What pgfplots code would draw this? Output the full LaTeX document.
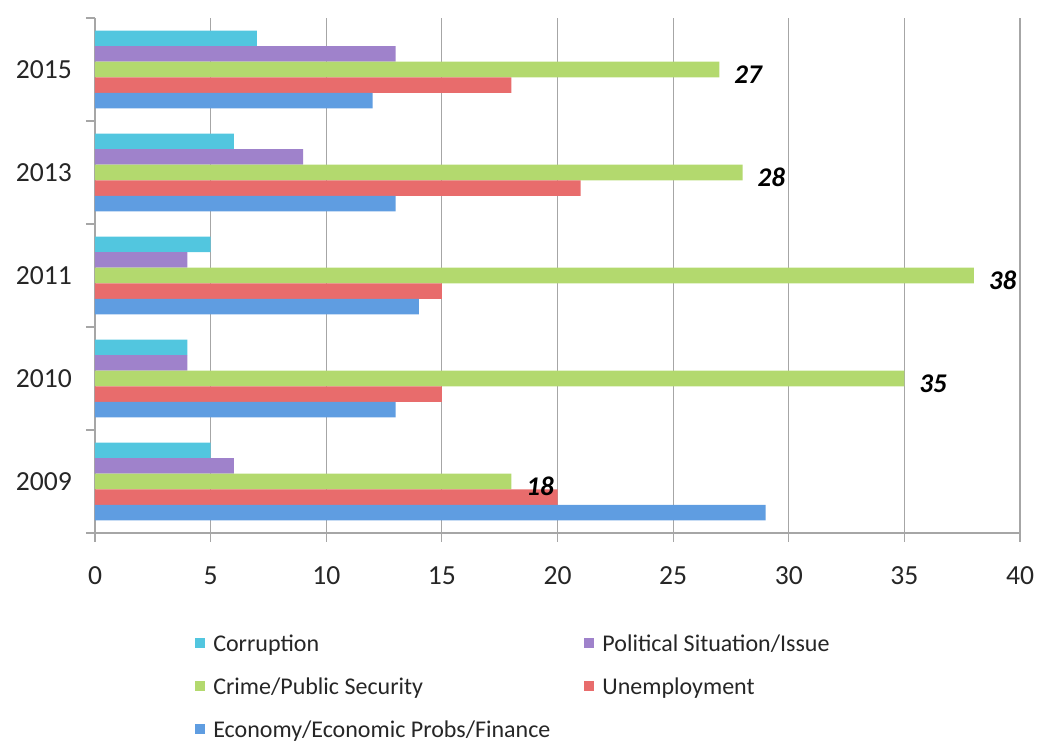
\documentclass[border=0pt]{standalone}
\usepackage{pgfplots}
\pgfplotsset{compat=1.18}
\usepackage{fontspec}
\setmainfont{Carlito}
\definecolor{cyM}{HTML}{52C6DF}\definecolor{puM}{HTML}{9F82CB}
\definecolor{grM}{HTML}{B3D96E}\definecolor{reM}{HTML}{E86C6C}
\definecolor{blM}{HTML}{5F9DE1}
\definecolor{gridc}{HTML}{A6A6A6}
\definecolor{txt}{HTML}{262626}
\pgfplotsset{sqleg/.style={legend image code/.code={\path (0pt,0pt); \fill[##1] (0pt,1.8pt) rectangle (5pt,6.8pt);}}}
\begin{document}
\begin{tikzpicture}
\path[use as bounding box] (-47.5pt,-104.5pt) rectangle (472pt,266.5pt);
\begin{axis}[
  at={(0,0)}, anchor=south west,
  scale only axis, width=462.5pt, height=257.5pt,
  xbar, bar width=0.151,
  xmin=0, xmax=40, ymin=-0.5, ymax=4.5,
  axis x line*=bottom, axis y line*=left,
  axis line style={draw=gridc, line width=0.6pt},
  xtick={0,5,...,40},
  ytick={-0.5,0.5,1.5,2.5,3.5,4.5}, yticklabels={},
  extra y ticks={0,1,2,3,4},
  extra y tick labels={2009,2010,2011,2013,2015},
  extra y tick style={major tick length=0pt},
  tick align=outside, major tick length=4.5pt,
  tick style={draw=gridc, line width=0.6pt},
  xmajorgrids, grid style={draw=gridc, line width=0.6pt},
  ticklabel style={font=\fontsize{13.8}{13.8}\selectfont, text=txt},
  xticklabel style={yshift=-9pt},
  yticklabel style={xshift=-8pt},
  /pgf/number format/assume math mode=true,
  legend columns=2,
  legend style={at={(axis description cs:0.108,-0.195)}, anchor=north west,
    draw=none, fill=none, inner sep=0pt, font=\fontsize{12}{12}\selectfont, text=txt,
    row sep=9.5pt,
    nodes={inner sep=0pt, text height=9pt, text depth=3pt, anchor=base west},
    /tikz/every odd column/.append style={column sep=4pt},
    /tikz/every even column/.append style={column sep=17pt}},
]
\addplot[sqleg, draw=none, fill=cyM, bar shift=0.302]
  coordinates {(5,0) (4,1) (5,2) (6,3) (7,4)};
\addlegendentry{Corruption}
\addplot[sqleg, draw=none, fill=puM, bar shift=0.151]
  coordinates {(6,0) (4,1) (4,2) (9,3) (13,4)};
\addlegendentry{Political Situation/Issue}
\addplot[sqleg, draw=none, fill=grM, bar shift=0,
  nodes near coords,
  nodes near coords style={anchor=west, xshift=4pt, yshift=-2.5pt, text=black,
    font=\fontsize{13.5}{13.5}\selectfont\bfseries\itshape}]
  coordinates {(18,0) (35,1) (38,2) (28,3) (27,4)};
\addlegendentry{Crime/Public Security}
\addplot[sqleg, draw=none, fill=reM, bar shift=-0.151]
  coordinates {(20,0) (15,1) (15,2) (21,3) (18,4)};
\addlegendentry{Unemployment}
\addplot[sqleg, draw=none, fill=blM, bar shift=-0.302]
  coordinates {(29,0) (13,1) (14,2) (13,3) (12,4)};
\addlegendentry{Economy/Economic Probs/Finance}
\end{axis}
\end{tikzpicture}
\end{document}
